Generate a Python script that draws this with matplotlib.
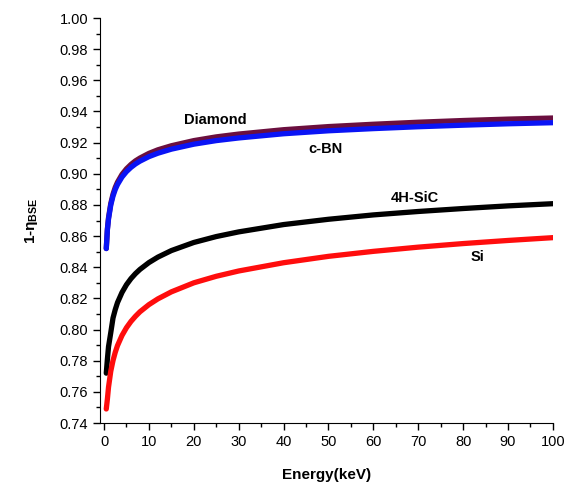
import matplotlib
matplotlib.use("Agg")
from matplotlib import pyplot as plt
from matplotlib.ticker import MultipleLocator

energy = [0.5, 0.75, 1, 1.5, 2, 2.5, 3, 4, 5, 6, 7, 8, 10, 12, 15, 20, 25,
          30, 40, 50, 60, 70, 80, 90, 100]
diamond = [0.852, 0.8646, 0.8718, 0.8809, 0.8869, 0.8913, 0.8946, 0.8996,
           0.9032, 0.9060, 0.9083, 0.9101, 0.9131, 0.9154, 0.9180, 0.9213,
           0.9237, 0.9255, 0.9283, 0.9303, 0.9318, 0.9331, 0.9342, 0.9351,
           0.9358]
cbn = [0.852, 0.8641, 0.8710, 0.8799, 0.8857, 0.8899, 0.8931, 0.8979, 0.9014,
       0.9041, 0.9063, 0.9081, 0.9110, 0.9132, 0.9158, 0.9190, 0.9213, 0.9230,
       0.9257, 0.9276, 0.9290, 0.9302, 0.9312, 0.9321, 0.9328]
sic = [0.772, 0.781, 0.789, 0.798, 0.8074, 0.8128, 0.8173, 0.8238, 0.8288,
       0.8327, 0.8359, 0.8386, 0.8430, 0.8465, 0.8507, 0.8559, 0.8597, 0.8627,
       0.8674, 0.8708, 0.8736, 0.8758, 0.8777, 0.8794, 0.8808]
si = [0.749, 0.7554, 0.763, 0.7732, 0.7801, 0.7854, 0.7897, 0.7962, 0.8012,
      0.8052, 0.8085, 0.8114, 0.8160, 0.8197, 0.8242, 0.8300, 0.8342, 0.8376,
      0.8429, 0.8470, 0.8502, 0.8529, 0.8552, 0.8572, 0.8590]


def main():
    plt.rcParams["font.family"] = ["Liberation Sans", "DejaVu Sans"]
    plt.rcParams["mathtext.fontset"] = "custom"
    plt.rcParams["mathtext.rm"] = "Liberation Sans:bold"
    plt.rcParams["mathtext.bf"] = "Liberation Sans:bold"
    plt.rcParams["mathtext.it"] = "Liberation Sans:bold"

    fig = plt.figure(figsize=(5.73, 4.87), dpi=100)
    ax = fig.add_axes([0.1745, 0.1314, 0.7905, 0.8316])

    style = dict(lw=3.8, solid_capstyle="round", solid_joinstyle="round")
    ax.plot(energy, diamond, color="#6b0f3f", **style)
    ax.plot(energy, cbn, color="#0a14f5", **style)
    ax.plot(energy, sic, color="black", **style)
    ax.plot(energy, si, color="#ff0d0d", **style)

    kw = dict(fontsize=10.5, fontweight="bold", ha="center", va="center")
    ax.text(24.7, 0.9345, "Diamond", **kw)
    ax.text(49.3, 0.9159, "c-BN", **kw)
    ax.text(69.3, 0.8844, "4H-SiC", **kw)
    ax.text(83.1, 0.8466, "Si", **kw)

    ax.set_xlim(-0.9, 100)
    ax.set_ylim(0.74, 1.00)
    ax.xaxis.set_major_locator(MultipleLocator(10))
    ax.xaxis.set_minor_locator(MultipleLocator(5))
    ax.yaxis.set_major_locator(MultipleLocator(0.02))
    ax.yaxis.set_minor_locator(MultipleLocator(0.01))
    ax.yaxis.set_major_formatter(plt.FormatStrFormatter("%.2f"))
    ax.tick_params(which="major", direction="out", length=5, width=1, labelsize=10.5)
    ax.tick_params(which="minor", direction="out", length=3, width=1)
    ax.spines["top"].set_visible(False)
    ax.spines["right"].set_visible(False)

    ax.set_xlabel("Energy(keV)", fontsize=11, fontweight="bold", labelpad=14)
    ax.set_ylabel(r"1-$\eta_{BSE}$", fontsize=11, fontweight="bold", labelpad=14)

    fig.savefig("out.png", dpi=100)


if __name__ == "__main__":
    main()
